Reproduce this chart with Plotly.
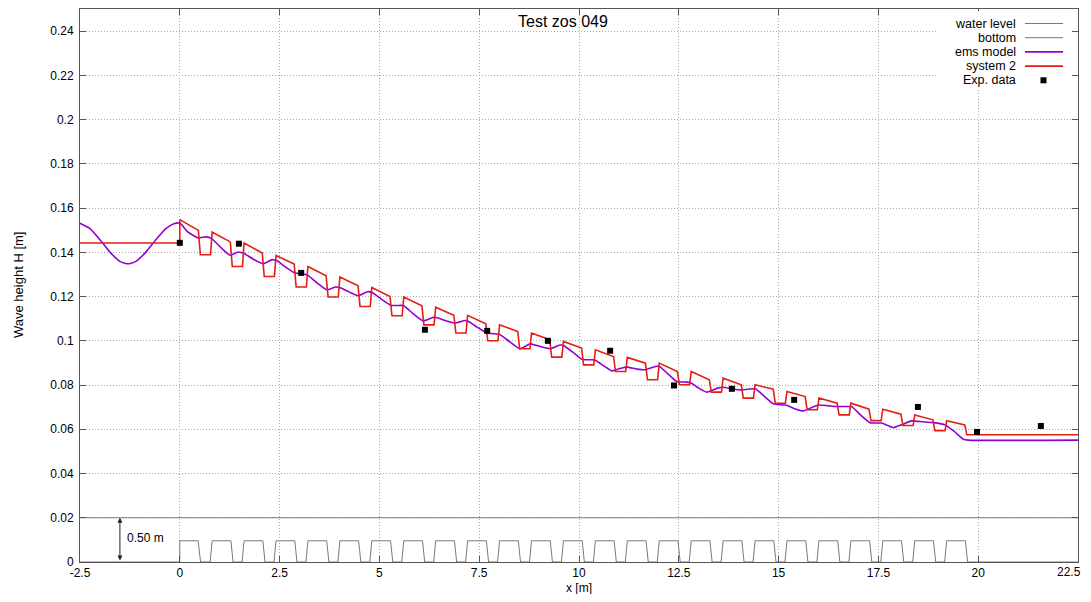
import plotly.graph_objects as go

# ---------------- data ----------------
# measured points
exp_x = [0.0, 1.48, 3.04, 6.14, 7.70, 9.22, 10.78, 12.38, 13.83, 15.39, 18.49, 19.97, 21.57]
exp_y = [0.1443, 0.1439, 0.1307, 0.1050, 0.1045, 0.1000, 0.0955, 0.0798, 0.0783, 0.0733, 0.0701, 0.0588, 0.0615]

# ems model (purple)
ems_x = [-2.5, -2.25, -2.0, -1.75, -1.5, -1.3, -1.1, -0.85, -0.6, -0.35, -0.15, 0.0,
         0.2, 0.46, 0.66, 0.80, 1.05, 1.26, 1.45, 1.60, 1.85, 2.09, 2.30, 2.42, 2.65, 2.89,
         3.05, 3.20, 3.45, 3.68, 3.90, 4.02, 4.25, 4.47, 4.70, 4.82, 5.05, 5.30, 5.56, 5.62,
         5.85, 6.10, 6.35, 6.45, 6.70, 6.89, 7.14, 7.22, 7.45, 7.69, 7.95, 8.02, 8.27, 8.52,
         8.77, 8.82, 9.05, 9.27, 9.52, 9.62, 9.85, 10.07, 10.35, 10.42, 10.62, 10.82, 11.05,
         11.20, 11.45, 11.65, 11.90, 12.00, 12.22, 12.45, 12.70, 12.82, 13.00, 13.20, 13.45,
         13.61, 13.85, 14.07, 14.35, 14.43, 14.65, 14.87, 15.16, 15.24, 15.42, 15.62, 15.85,
         16.00, 16.25, 16.46, 16.79, 16.85, 17.05, 17.29, 17.58, 17.87, 18.10, 18.33, 18.60,
         18.88, 19.17, 19.40, 19.63, 19.75, 22.5]
ems_y = [0.1531, 0.1507, 0.1457, 0.1401, 0.1359, 0.1348, 0.1359, 0.1401, 0.1457, 0.1507, 0.1529, 0.1532,
         0.1492, 0.1465, 0.1470, 0.1462, 0.1418, 0.1387, 0.1400, 0.1396, 0.1368, 0.1348, 0.1366, 0.1364, 0.1333, 0.1306,
         0.1303, 0.1297, 0.1260, 0.1231, 0.1243, 0.1240, 0.1220, 0.1204, 0.1222, 0.1218, 0.1188, 0.1160, 0.1160, 0.1157,
         0.1122, 0.1090, 0.1106, 0.1104, 0.1088, 0.1080, 0.1092, 0.1088, 0.1062, 0.1035, 0.1031, 0.1028, 0.0995, 0.0964,
         0.0986, 0.0985, 0.0973, 0.0964, 0.0981, 0.0978, 0.0948, 0.0917, 0.0914, 0.0911, 0.0887, 0.0864, 0.0876,
         0.0881, 0.0872, 0.0869, 0.0883, 0.0886, 0.0852, 0.0816, 0.0813, 0.0808, 0.0786, 0.0768, 0.0785,
         0.0790, 0.0782, 0.0778, 0.0783, 0.0782, 0.0748, 0.0715, 0.0710, 0.0706, 0.0692, 0.0683, 0.0700,
         0.0710, 0.0706, 0.0703, 0.0703, 0.0700, 0.0665, 0.0630, 0.0628, 0.0608, 0.0622, 0.0638, 0.0634,
         0.0630, 0.0620, 0.0590, 0.0555, 0.0551, 0.0551]

# system 2 (red): incident level, and per-bar high / end-of-slope / low values
sys_incident = 0.1442
sys_high = [0.1548, 0.1492, 0.1442, 0.1386, 0.1336, 0.1288, 0.1241, 0.1198, 0.1152, 0.1115, 0.1072, 0.1035, 0.0997,
            0.0959, 0.0925, 0.0899, 0.0861, 0.0831, 0.0801, 0.0771, 0.0741, 0.0718, 0.0691, 0.0665, 0.0639]
sys_end = [0.1499, 0.1447, 0.1397, 0.1347, 0.1294, 0.1249, 0.1200, 0.1158, 0.1115, 0.1077, 0.1042, 0.1005, 0.0967,
           0.0929, 0.0899, 0.0861, 0.0824, 0.0801, 0.0781, 0.0748, 0.0718, 0.0691, 0.0668, 0.0643, 0.0620]
sys_low = [0.1389, 0.1336, 0.1291, 0.1243, 0.1198, 0.1155, 0.1113, 0.1072, 0.1035, 0.1000, 0.0964, 0.0926, 0.0891,
           0.0861, 0.0824, 0.0801, 0.0768, 0.0741, 0.0718, 0.0688, 0.0665, 0.0639, 0.0617, 0.0594, 0.0575]

# bottom bars (scaled): start positions and height
bar_start = [0.0, 0.8, 1.6, 2.4, 3.2, 4.0, 4.8, 5.6, 6.4, 7.2, 8.0, 8.8, 9.6, 10.4, 11.2, 12.0,
             12.8, 13.6, 14.4, 15.2, 16.0, 16.8, 17.6, 18.4, 19.2]
bar_height = 0.0096
water_level = 0.02

x_range = [-2.5, 22.5]
y_range = [0.0, 0.25]
x_ticks = [-2.5, 0, 2.5, 5, 7.5, 10, 12.5, 15, 17.5, 20, 22.5]
x_ticktext = ["-2.5", "0", "2.5", "5", "7.5", "10", "12.5", "15", "17.5", "20", "22.5"]
y_ticks = [0, 0.02, 0.04, 0.06, 0.08, 0.1, 0.12, 0.14, 0.16, 0.18, 0.2, 0.22, 0.24]
y_ticktext = ["0", "0.02", "0.04", "0.06", "0.08", "0.1", "0.12", "0.14", "0.16", "0.18", "0.2", "0.22", "0.24"]

# ---------------- build polylines ----------------
sys_x = [x_range[0], bar_start[0]]
sys_y = [sys_incident, sys_incident]
for k, s in enumerate(bar_start):
    if k > 0:
        sys_x += [s - 0.03]
        sys_y += [sys_low[k - 1]]
        sys_x += [s + 0.01]
    else:
        sys_x += [s]
    sys_y += [sys_high[k]]
    sys_x += [s + 0.465, s + 0.515]
    sys_y += [sys_end[k], sys_low[k]]
sys_x.append(x_range[1])
sys_y.append(sys_low[-1])

bot_x = [x_range[0]]
bot_y = [0.0]
for k, s in enumerate(bar_start):
    if k == 0:
        bot_x += [s, s, s + 0.46, s + 0.52]
    else:
        bot_x += [s - 0.04, s + 0.01, s + 0.48, s + 0.535]
    bot_y += [0.0, bar_height, bar_height, 0.0]
bot_x.append(x_range[1])
bot_y.append(0.0)

GRAY = "#7a7a7a"
PURPLE = "#9400d3"
RED = "#e51e10"
AXIS = "#555555"

fig = go.Figure()
fig.add_trace(go.Scatter(x=x_range, y=[water_level, water_level], mode="lines",
                         line=dict(color=GRAY, width=1), name="water level"))
fig.add_trace(go.Scatter(x=bot_x, y=bot_y, mode="lines",
                         line=dict(color=GRAY, width=1), name="bottom"))
fig.add_trace(go.Scatter(x=ems_x, y=ems_y, mode="lines",
                         line=dict(color=PURPLE, width=1.6, shape="spline", smoothing=0.5), name="ems model"))
fig.add_trace(go.Scatter(x=sys_x, y=sys_y, mode="lines",
                         line=dict(color=RED, width=1.6), name="system 2"))
fig.add_trace(go.Scatter(x=exp_x, y=exp_y, mode="markers",
                         marker=dict(symbol="square", size=6, color="black"), name="Exp. data"))

# ---------------- layout ----------------
# the page body adds an 8px margin; the figure is sized so the plot lands where the reference has it
OFF = 8
W, H = 1091 - OFF, 602 - 2 * OFF
VIS_R = 1091 - OFF                          # last visible window column
PL, PR, PT, PB = 80, 1078, 9, 562          # plot-area edges in window pixels
ML, MR, MT, MB = PL - OFF, (W + OFF) - PR, PT - OFF, (H + OFF) - PB
pw, ph = PR - PL, PB - PT

def px2paper_x(px):
    return (px - PL) / pw

def px2paper_y(py):
    return (PB - py) / ph

fig.update_layout(
    width=W, height=H,
    margin=dict(l=ML, r=MR, t=MT, b=MB, autoexpand=False),
    plot_bgcolor="white", paper_bgcolor="white",
    showlegend=False,
    font=dict(family="Liberation Sans, Arial, sans-serif", size=12, color="black"),
)
axis_common = dict(showgrid=True, gridcolor="#a8a8a8", griddash="1px,2px", gridwidth=1,
                   zeroline=False, showline=True, linecolor=AXIS, linewidth=1, mirror="ticks",
                   ticks="inside", ticklen=6, tickcolor=AXIS, automargin=False)
# last x label is drawn as an annotation so it stays inside the visible page
fig.update_xaxes(range=x_range, tickmode="array", tickvals=x_ticks,
                 ticktext=x_ticktext[:-1] + [""], ticklabelstandoff=0, **axis_common)
fig.update_yaxes(range=y_range, tickmode="array", tickvals=y_ticks, ticktext=y_ticktext,
                 ticklabelstandoff=3, **axis_common)
fig.add_annotation(text=x_ticktext[-1], xref="paper", yref="paper", x=px2paper_x(VIS_R), y=px2paper_y(572),
                   showarrow=False, xanchor="right", yanchor="middle", font=dict(size=12))

# axis titles
fig.add_annotation(text="x [m]", xref="paper", yref="paper", x=px2paper_x(579), y=px2paper_y(588),
                   showarrow=False, font=dict(size=12), xanchor="center", yanchor="middle",
                   borderpad=0)
fig.add_annotation(text="Wave height H [m]", xref="paper", yref="paper", x=px2paper_x(18), y=px2paper_y(285),
                   showarrow=False, font=dict(size=13), xanchor="center", yanchor="middle", textangle=-90)

# title
fig.add_annotation(text="Test zos 049", xref="paper", yref="paper", x=px2paper_x(563), y=px2paper_y(22),
                   showarrow=False, font=dict(size=16), xanchor="center", yanchor="middle")

# 0.50 m depth arrow
fig.add_annotation(x=-1.5, y=water_level, ax=-1.5, ay=0.0, xref="x", yref="y", axref="x", ayref="y",
                   showarrow=True, arrowhead=2, startarrowhead=2, arrowside="end+start",
                   arrowwidth=1, arrowsize=1, arrowcolor="#222", text="")
fig.add_annotation(x=-1.37, y=water_level / 2 + 0.001, xref="x", yref="y", text="0.50 m", showarrow=False,
                   xanchor="left", yanchor="middle", font=dict(size=12))

# custom legend (gnuplot style: text right, sample after)
fig.add_shape(type="rect", xref="paper", yref="paper",
              x0=px2paper_x(937), x1=px2paper_x(1071), y0=px2paper_y(88), y1=px2paper_y(11),
              fillcolor="white", line=dict(width=0), layer="above")
legend_rows = [("water level", GRAY, 23.5), ("bottom", GRAY, 37.7), ("ems model", PURPLE, 51.9),
               ("system 2", RED, 66.1)]
for label, col, py in legend_rows:
    fig.add_annotation(text=label, xref="paper", yref="paper", x=px2paper_x(1018), y=px2paper_y(py),
                       showarrow=False, xanchor="right", yanchor="middle", font=dict(size=12.5))
    fig.add_shape(type="line", xref="paper", yref="paper", x0=px2paper_x(1025), x1=px2paper_x(1063),
                  y0=px2paper_y(py), y1=px2paper_y(py), line=dict(color=col, width=1.6 if col != GRAY else 1),
                  layer="above")
fig.add_annotation(text="Exp. data", xref="paper", yref="paper", x=px2paper_x(1018), y=px2paper_y(80.3),
                   showarrow=False, xanchor="right", yanchor="middle", font=dict(size=12.5))
fig.add_shape(type="rect", xref="paper", yref="paper", x0=px2paper_x(1040.5), x1=px2paper_x(1046.5),
              y0=px2paper_y(83.3), y1=px2paper_y(77.3), fillcolor="black", line=dict(width=0), layer="above")

fig.write_html("out.html")
